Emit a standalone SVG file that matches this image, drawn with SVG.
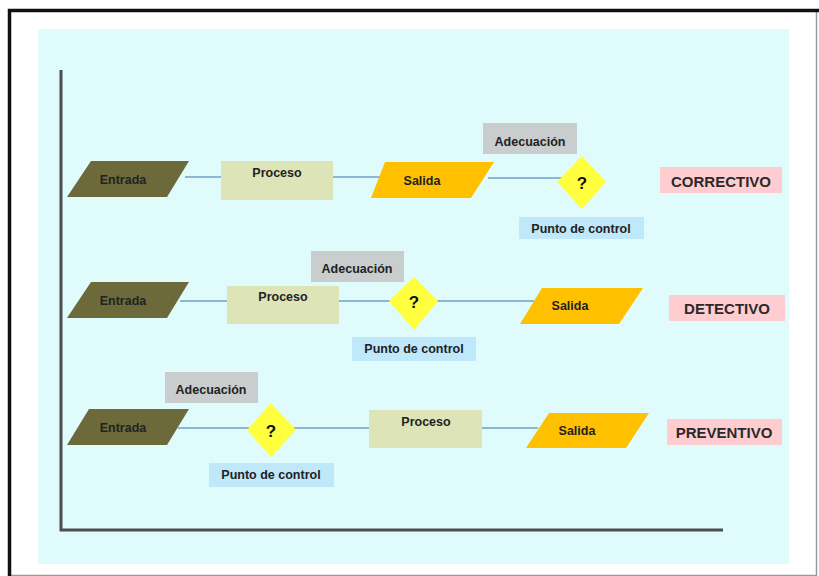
<svg xmlns="http://www.w3.org/2000/svg" width="819" height="576" viewBox="0 0 819 576">
  <style>
    text { font-family: "Liberation Sans", Arial, sans-serif; font-weight: bold; fill: #222; text-anchor: middle; dominant-baseline: central; }
    .lbl { font-size: 12.5px; }
    .big { font-size: 15px; fill: #2a2a2a; }
    .q { font-size: 17px; fill: #111; }
    .entrada { fill: #6c6a3a; }
    .proceso { fill: #dde4b7; }
    .salida { fill: #ffc000; }
    .adec { fill: #c9cdcd; }
    .diamond { fill: #ffff40; }
    .punto { fill: #bfe8fa; }
    .tipo { fill: #ffcdd0; }
    .flow { stroke: #8fb5d6; stroke-width: 2; fill: none; }
    .axis { stroke: #4a4f4f; stroke-width: 3; fill: none; }
  </style>

  <!-- page frame and panel -->
  <rect x="0" y="0" width="819" height="576" fill="#ffffff"/>
  <path d="M816.5 10 V575.5 H9.5" fill="none" stroke="#9a9a9a" stroke-width="1.5"/>
  <path d="M9.5 576 V10.5 H819" fill="none" stroke="#111" stroke-width="3.5"/>
  <rect x="38" y="29" width="751" height="535" fill="#e0fbfc"/>

  <!-- axes -->
  <path class="axis" d="M61 70 V530 H723"/>

  <!-- connectors -->
  <g id="connectors">
    <line class="flow" x1="185" y1="177" x2="222" y2="177"/>
    <line class="flow" x1="333" y1="177" x2="382" y2="177"/>
    <line class="flow" x1="488" y1="178" x2="597" y2="178"/>

    <line class="flow" x1="180" y1="301" x2="228" y2="301"/>
    <line class="flow" x1="339" y1="301" x2="534" y2="301"/>

    <line class="flow" x1="178" y1="428" x2="370" y2="428"/>
    <line class="flow" x1="482" y1="428" x2="538" y2="428"/>
  </g>

  <!-- CORRECTIVO row -->
  <g id="entrada1"><polygon class="entrada" points="91,161 189,161 167,197 67,197"/><text class="lbl" x="123" y="180">Entrada</text></g>
  <g id="proceso1"><rect class="proceso" x="221" y="161" width="112" height="39"/><text class="lbl" x="277" y="173">Proceso</text></g>
  <g id="salida1"><polygon class="salida" points="385,162 494,162 471,198 371,198"/><text class="lbl" x="422" y="181">Salida</text></g>
  <g id="adecuacion1"><rect class="adec" x="483" y="123" width="94" height="31"/><text class="lbl" x="530" y="142">Adecuación</text></g>
  <g id="control1"><polygon class="diamond" points="582,156 606,182 582,209 557,182"/><text class="q" x="582" y="183">?</text></g>
  <g id="punto1"><rect class="punto" x="519" y="217" width="125" height="22"/><text class="lbl" x="581" y="229">Punto de control</text></g>
  <g id="correctivo"><rect class="tipo" x="660" y="167" width="122" height="26"/><text class="big" x="721" y="181">CORRECTIVO</text></g>

  <!-- DETECTIVO row -->
  <g id="entrada2"><polygon class="entrada" points="91,282 189,282 167,318 67,318"/><text class="lbl" x="123" y="301">Entrada</text></g>
  <g id="proceso2"><rect class="proceso" x="227" y="286" width="112" height="38"/><text class="lbl" x="283" y="297">Proceso</text></g>
  <g id="adecuacion2"><rect class="adec" x="311" y="251" width="93" height="31"/><text class="lbl" x="357" y="269">Adecuación</text></g>
  <g id="control2"><polygon class="diamond" points="414,277 438,301 414,330 389,301"/><text class="q" x="414" y="302">?</text></g>
  <g id="punto2"><rect class="punto" x="352" y="337" width="124" height="24"/><text class="lbl" x="414" y="349">Punto de control</text></g>
  <g id="salida2"><polygon class="salida" points="542,288 643,288 619,324 520,324"/><text class="lbl" x="570" y="306">Salida</text></g>
  <g id="detectivo"><rect class="tipo" x="669" y="295" width="116" height="26"/><text class="big" x="727" y="308">DETECTIVO</text></g>

  <!-- PREVENTIVO row -->
  <g id="adecuacion3"><rect class="adec" x="165" y="372" width="93" height="31"/><text class="lbl" x="211" y="390">Adecuación</text></g>
  <g id="entrada3"><polygon class="entrada" points="89,409 189,409 167,445 67,445"/><text class="lbl" x="123" y="428">Entrada</text></g>
  <g id="control3"><polygon class="diamond" points="271,403 296,430 271,457 247,430"/><text class="q" x="271" y="431">?</text></g>
  <g id="punto3"><rect class="punto" x="209" y="463" width="125" height="24"/><text class="lbl" x="271" y="475">Punto de control</text></g>
  <g id="proceso3"><rect class="proceso" x="369" y="410" width="113" height="38"/><text class="lbl" x="426" y="422">Proceso</text></g>
  <g id="salida3"><polygon class="salida" points="549,413 649,413 626,448 526,448"/><text class="lbl" x="577" y="431">Salida</text></g>
  <g id="preventivo"><rect class="tipo" x="667" y="419" width="115" height="26"/><text class="big" x="724" y="432">PREVENTIVO</text></g>
</svg>
